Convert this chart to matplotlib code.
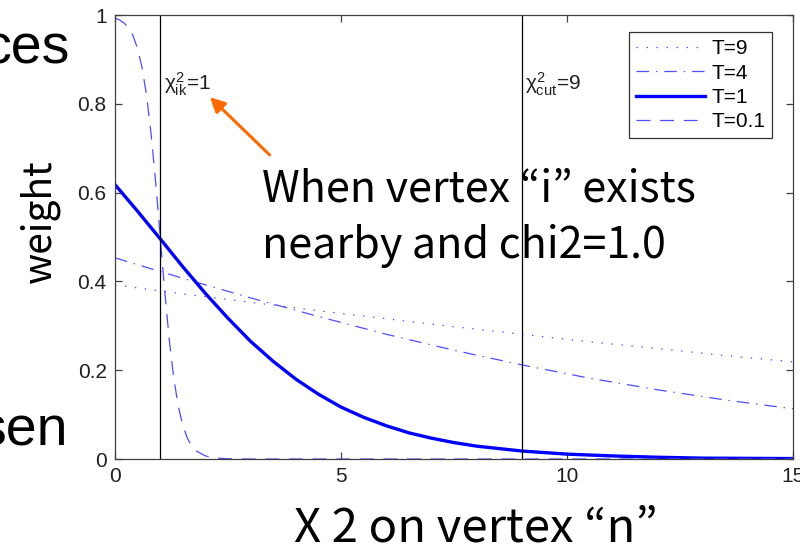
import matplotlib
matplotlib.use('Agg')
import matplotlib.pyplot as plt

plt.rcParams['font.family'] = ['Liberation Sans', 'DejaVu Sans']
plt.rcParams['mathtext.fontset'] = 'custom'
plt.rcParams['mathtext.rm'] = 'Liberation Sans'
plt.rcParams['mathtext.it'] = 'Liberation Sans'
plt.rcParams['lines.scale_dashes'] = False

# weight vs chi2
x_T9 = [0, 1.5, 3, 4.5, 6, 7.5, 9, 10.5, 12, 13.5, 15]
w_T9 = [0.392, 0.372, 0.353, 0.334, 0.316, 0.298, 0.281, 0.264, 0.249, 0.233, 0.219]

x_T4 = [0, 1.5, 3, 4.5, 6, 7.5, 9, 10.5, 12, 13.5, 15]
w_T4 = [0.453, 0.407, 0.363, 0.321, 0.281, 0.245, 0.212, 0.182, 0.156, 0.133, 0.113]

x_T1 = [0, 0.5, 1, 1.5, 2, 2.5, 3, 3.5, 4, 4.5, 5, 5.5, 6, 6.5, 7, 7.5, 8,
        9, 10, 11, 12, 13, 14, 15]
w_T1 = [0.618, 0.558, 0.496, 0.433, 0.373, 0.317, 0.265, 0.220, 0.180, 0.146,
        0.117, 0.094, 0.075, 0.059, 0.047, 0.037, 0.029,
        0.018, 0.011, 0.007, 0.004, 0.002, 0.0015, 0.001]

x_T01 = [0, 0.1, 0.2, 0.3, 0.4, 0.5, 0.6, 0.7, 0.8, 0.9, 1.0, 1.1, 1.2, 1.3,
         1.4, 1.5, 1.6, 1.7, 1.8, 2.0, 2.2, 2.5, 3, 15]
w_T01 = [0.993, 0.989, 0.982, 0.971, 0.953, 0.924, 0.881, 0.818, 0.731, 0.623,
         0.500, 0.378, 0.269, 0.182, 0.119, 0.076, 0.047, 0.029, 0.018, 0.007,
         0.0025, 0.0006, 0.0, 0.0]

chi2_ik = 1
chi2_cut = 9

fig = plt.figure(figsize=(8, 5.46), dpi=100)
ax = fig.add_axes([0.14375, 0.1593, 0.8475, 0.8132])

blue_thin = (0.3, 0.3, 1.0)
ax.plot(x_T9, w_T9, color=blue_thin, lw=0.9, dashes=(1, 6.2), label='T=9')
ax.plot(x_T4, w_T4, color=blue_thin, lw=0.9, dashes=(9, 5, 1, 5), label='T=4')
ax.plot(x_T1, w_T1, color='blue', lw=2.4, label='T=1')
ax.plot(x_T01, w_T01, color=blue_thin, lw=0.9, dashes=(10, 7), label='T=0.1')

ax.axvline(chi2_ik, color='black', lw=0.9)
ax.axvline(chi2_cut, color='black', lw=0.9)
ax.text(1.08, 0.845, r'$\chi^2_{ik}$=1', fontsize=15, va='center', color='#202020')
ax.text(9.08, 0.845, r'$\chi^2_{cut}$=9', fontsize=15, va='center', color='#202020')

ax.set_xlim(0, 15)
ax.set_ylim(0, 1)
ax.set_xticks([0, 5, 10, 15])
ax.set_yticks([0, 0.2, 0.4, 0.6, 0.8, 1])
ax.set_yticklabels(['0', '0.2', '0.4', '0.6', '0.8', '1'])
ax.tick_params(direction='in', length=5, width=0.9, top=True, right=True,
               labelsize=15, colors='#404040', labelcolor='#202020', pad=6)
for s in ax.spines.values():
    s.set_color('#404040')
    s.set_linewidth(0.9)

leg = ax.legend(loc='upper right', fontsize=15, frameon=True, fancybox=False,
                edgecolor='black', handlelength=3.3, handletextpad=0.3,
                labelspacing=0.25, borderpad=0.35, bbox_to_anchor=(0.985, 0.985))
leg.get_frame().set_linewidth(0.9)

# annotation
ax.annotate('', xy=(2.1, 0.815), xytext=(3.42, 0.685),
            arrowprops=dict(arrowstyle='-|>', color='#ff6a00', lw=2.2,
                            mutation_scale=22, shrinkA=0, shrinkB=0))
jp = ['Noto Sans CJK JP', 'DejaVu Sans']
fig.text(262 / 800, (546 - 202) / 546, 'When vertex “i” exists', fontsize=31,
         family=jp, va='baseline', ha='left')
fig.text(262 / 800, (546 - 258) / 546, 'nearby and chi2=1.0', fontsize=31,
         family=jp, va='baseline', ha='left')

fig.text(40 / 800, (546 - 221) / 546, 'weight', fontsize=28, family=jp,
         rotation=90, ha='center', va='center')
fig.text(476 / 800, (546 - 541) / 546, 'X 2 on vertex “n”', fontsize=34,
         family=jp, ha='center', va='baseline')

# slide text cut off at the left edge
fig.text(70 / 800, (546 - 63) / 546, 'ces', fontsize=40, ha='right', va='baseline')
fig.text(68 / 800, (546 - 445) / 546, 'sen', fontsize=40, ha='right', va='baseline')

fig.savefig('out.png', dpi=100)
